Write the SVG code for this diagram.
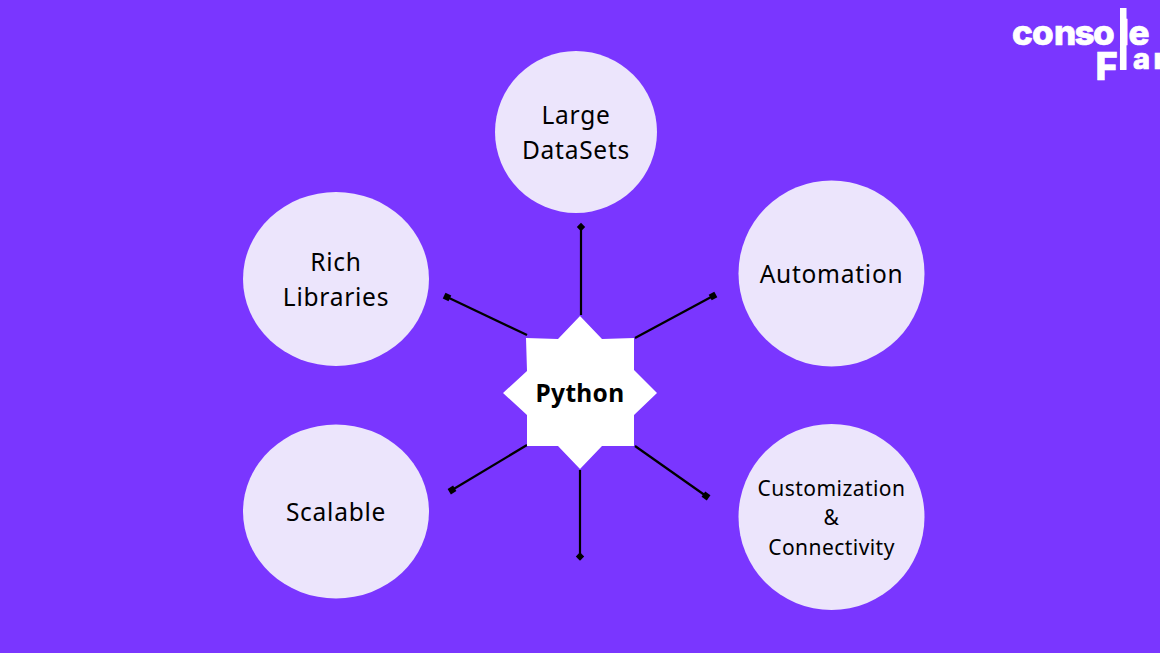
<svg xmlns="http://www.w3.org/2000/svg" width="1160" height="653" viewBox="0 0 1160 653">
<style>
.c{fill:#ece5fc}
.t{font-family:"Noto Sans","Open Sans",sans-serif;font-size:24.5px;fill:#000;text-anchor:middle;letter-spacing:.75px}
.s{font-size:21px;letter-spacing:.45px}
.b{font-family:"Noto Sans","Open Sans",sans-serif;font-weight:700;font-size:24.5px;fill:#000;text-anchor:middle;letter-spacing:.3px}
.l{font-family:Inter,"Liberation Sans",sans-serif;font-weight:800;fill:#fff;stroke:#fff;stroke-width:.7px}
.k{stroke:#000;stroke-width:2.2;fill:none;marker-end:url(#m)}
</style>
<defs><marker id="m" markerUnits="userSpaceOnUse" markerWidth="8" markerHeight="8" refX="4" refY="4" orient="auto"><rect x=".8" y=".8" width="6.400" height="6.400" fill="#000"/></marker>
<marker id="d" markerUnits="userSpaceOnUse" markerWidth="10" markerHeight="10" refX="5" refY="5" orient="auto"><path d="M.8 5L5 .8L9.200 5L5 9.200Z" fill="#000"/></marker></defs>
<rect width="1160" height="653" fill="#7a36ff"/>
<g id="connectors">
<path class="k" style="marker-end:url(#d)" d="M581 315V227"/>
<path class="k" d="M527 335L447 297"/>
<path class="k" d="M635 338L713 296"/>
<path class="k" d="M527 445L452 490"/>
<path class="k" d="M635 446L706 496"/>
<path class="k" style="marker-end:url(#d)" d="M580 470V556.500"/>
</g>
<g id="python"><path fill="#fff" d="M580 316L602 339L634 338L634 370L657 393L634 415L634 446L602 446L580 469L558 446L527 446L527 415L503 393L527 371L526 338L558 339Z"/><text class="b" x="580" y="402">Python</text></g>
<g id="large"><circle class="c" cx="576" cy="132" r="81"/><text class="t" x="576" y="124">Large</text><text class="t" x="576" y="159">DataSets</text></g>
<g id="rich"><ellipse class="c" cx="336" cy="279" rx="93" ry="87"/><text class="t" x="336" y="271">Rich</text><text class="t" x="336" y="306">Libraries</text></g>
<g id="automation"><circle class="c" cx="831.500" cy="273.500" r="93"/><text class="t" x="831.500" y="283">Automation</text></g>
<g id="scalable"><ellipse class="c" cx="336" cy="511.500" rx="93" ry="87"/><text class="t" x="336" y="521">Scalable</text></g>
<g id="custom"><circle class="c" cx="831.500" cy="517" r="93"/><text class="t s" x="831.500" y="496">Customization</text><text class="t s" x="831.500" y="525">&amp;</text><text class="t s" x="831.500" y="555">Connectivity</text></g>
<g id="logo"><text class="l" y="45" font-size="35" x="1012 1032 1054 1074.500 1093 1119 1128.500">console</text><rect x="1120" y="8" width="6.500" height="62" fill="#fff"/>
<text class="l"><tspan x="1095.500" y="80" font-size="38">F</tspan><tspan x="1119" y="68.500" font-size="28">l</tspan><tspan x="1133" y="68.500" font-size="29">a</tspan><tspan x="1153.500" y="68.500" font-size="29">r</tspan></text></g>
</svg>
